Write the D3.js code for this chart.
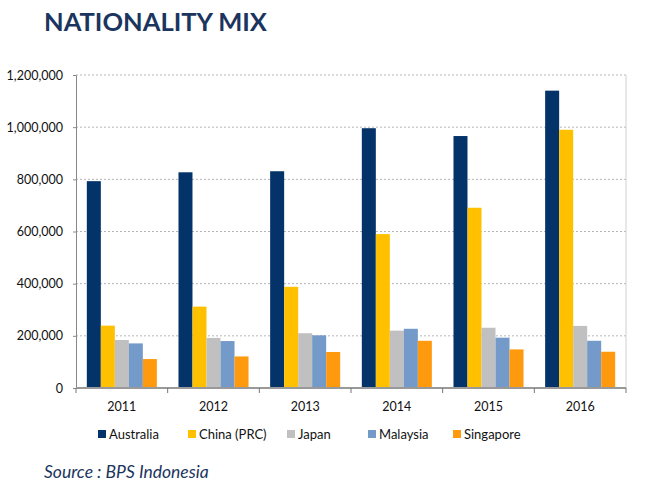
<!DOCTYPE html>
<html>
<head>
  <meta charset="utf-8">
  <title>Nationality Mix</title>
  <style>
    body { margin: 0; background: #fff; }
    text { font-family: Lato, "DejaVu Sans", sans-serif; }
  </style>
</head>
<body>
  <svg width="651" height="491"></svg>
  <script src="https://d3js.org/d3.v7.min.js"></script>
  <script>
  // data
  const years = ["2011", "2012", "2013", "2014", "2015", "2016"];
  const countries = ["Australia", "China (PRC)", "Japan", "Malaysia", "Singapore"];
  const colors = ["#04336a", "#ffc000", "#c0c0c0", "#739ac8", "#ff9a0e"];
  const australia = [793000, 827000, 831000, 996000, 966000, 1140000];
  const china     = [239000, 312000, 388000, 590000, 691000, 990000];
  const japan     = [184000, 192000, 210000, 220000, 231000, 238000];
  const malaysia  = [171000, 180000, 202000, 227000, 193000, 181000];
  const singapore = [111000, 121000, 138000, 181000, 148000, 139000];
  const yTicks = [0, 200000, 400000, 600000, 800000, 1000000, 1200000];

  const series = [australia, china, japan, malaysia, singapore];

  const svg = d3.select("svg");
  const plotL = 76, plotR = 626, plotT = 75, plotB = 388;

  let x0 = d3.scaleBand().domain(years).range([plotL, plotR]).paddingInner(0.236).paddingOuter(0.118);
  let x1 = d3.scaleBand().domain(countries).range([0, x0.bandwidth()]);
  let y = d3.scaleLinear().domain([0, 1200000]).range([plotB, plotT]);

  // title
  svg.append("text")
    .attr("x", 44).attr("y", 31)
    .attr("font-size", 25.5).attr("font-weight", "bold")
    .attr("fill", "#1b355e")
    .text("NATIONALITY MIX");

  // grid lines
  svg.append("g")
    .selectAll("line")
    .data(yTicks.filter(d => d > 0))
    .enter().append("line")
    .attr("x1", plotL).attr("x2", plotR)
    .attr("y1", d => y(d)).attr("y2", d => y(d))
    .attr("stroke", "#b5b5b5")
    .attr("stroke-dasharray", "2,2");

  // right border
  svg.append("line")
    .attr("x1", plotR).attr("x2", plotR).attr("y1", plotT).attr("y2", plotB)
    .attr("stroke", "#d0d0d0");

  // y axis
  let yAxis = d3.axisLeft(y)
    .tickValues(yTicks)
    .tickFormat(d3.format(","))
    .tickSize(3)
    .tickPadding(10);
  let ya = svg.append("g").attr("transform", "translate(" + plotL + ",0)").call(yAxis);
  ya.select(".domain").attr("stroke", "#888");
  ya.selectAll(".tick line").attr("stroke", "#888");
  ya.selectAll("text").attr("font-size", 12.5).attr("fill", "#111")
    .style("font-family", "Lato, sans-serif");

  // bars
  let groups = svg.append("g")
    .selectAll("g")
    .data(years)
    .enter().append("g")
    .attr("transform", d => "translate(" + x0(d) + ",0)");

  groups.selectAll("rect")
    .data((yr, i) => countries.map((c, j) => ({ c: c, j: j, v: series[j][i] })))
    .enter().append("rect")
    .attr("x", d => x1(d.c))
    .attr("width", x1.bandwidth())
    .attr("y", d => y(d.v))
    .attr("height", d => y(0) - y(d.v))
    .attr("fill", d => colors[d.j]);

  // x axis
  let xb = svg.append("g").attr("transform", "translate(0," + plotB + ")");
  xb.append("line")
    .attr("x1", plotL).attr("x2", plotR)
    .attr("stroke", "#999").attr("stroke-width", 2);
  let xTickPos = years.map(d => x0(d) - x0.step() * x0.paddingInner() / 2).concat([plotR]);
  xTickPos[0] = plotL;
  xb.selectAll(".xt")
    .data(xTickPos)
    .enter().append("line")
    .attr("class", "xt")
    .attr("x1", d => d).attr("x2", d => d)
    .attr("y1", 0).attr("y2", 5)
    .attr("stroke", "#777");
  xb.selectAll(".xl")
    .data(years)
    .enter().append("text")
    .attr("class", "xl")
    .attr("x", d => x0(d) + x0.bandwidth() / 2)
    .attr("y", 23)
    .attr("text-anchor", "middle")
    .attr("font-size", 12.5).attr("fill", "#111")
    .text(d => d);

  // legend
  const legendX = [98, 188, 287, 368, 453];
  let lg = svg.append("g")
    .selectAll("g")
    .data(countries)
    .enter().append("g")
    .attr("transform", (d, i) => "translate(" + legendX[i] + ",430)");
  lg.append("rect")
    .attr("width", 8).attr("height", 8)
    .attr("fill", (d, i) => colors[i]);
  lg.append("text")
    .attr("x", 11).attr("y", 9)
    .attr("font-size", 13).attr("fill", "#111")
    .text(d => d);

  // source
  svg.append("text")
    .attr("x", 44).attr("y", 478)
    .attr("font-size", 17.5).attr("font-style", "italic")
    .attr("fill", "#1b355e")
    .text("Source : BPS Indonesia");
  </script>
</body>
</html>
